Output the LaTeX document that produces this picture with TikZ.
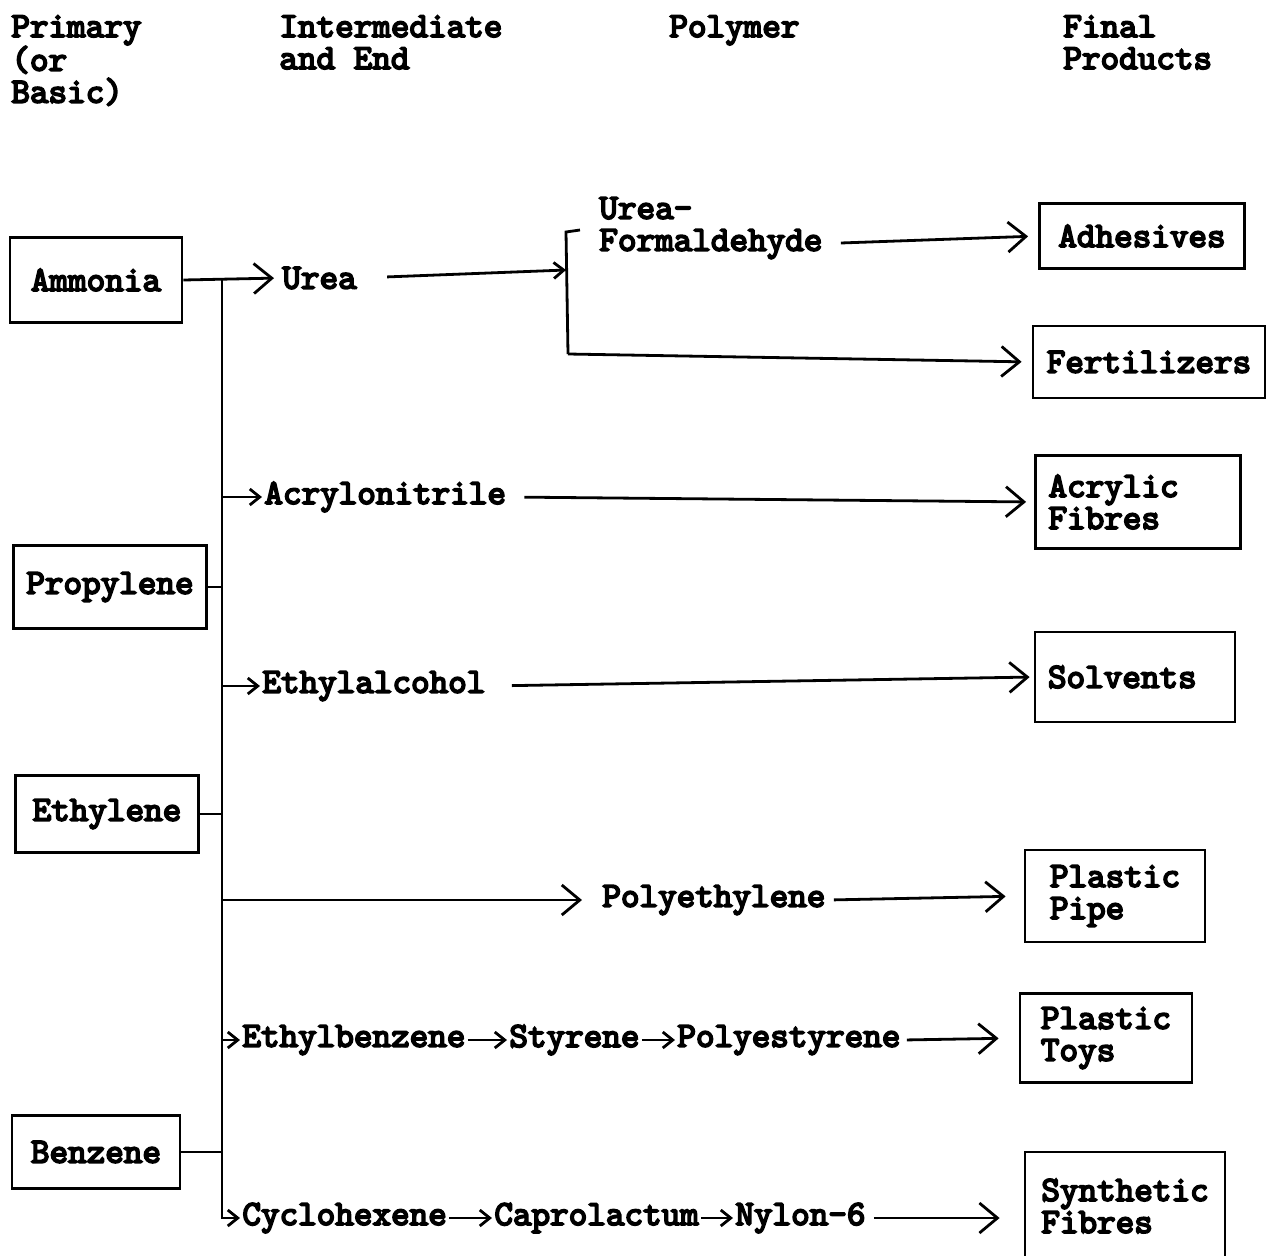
\documentclass[tikz,border=0pt]{standalone}
\usepackage{fontspec}
\newfontfamily\tw{lmmono10-regular}[Extension=.otf, FakeBold=5]
\usetikzlibrary{arrows.meta}
\begin{document}
\begin{tikzpicture}[x=1pt,y=-1pt,
  font=\tw\fontsize{35.4}{32}\selectfont,
  line width=2.8pt,
  lab/.style={inner sep=1pt, anchor=west, align=left},
  hdr/.style={inner sep=0pt, anchor=north west, align=left},
  box/.style={draw, inner sep=0pt, align=left},
  arr/.style={-{Straight Barb[length=18pt,width=30pt]}},
  sarr/.style={-{Straight Barb[length=10pt,width=16pt]}}]
\useasboundingbox (0,0) rectangle (1271,1255);

% headers
\node[hdr] (h1) at (10,14) {Primary\\(or\\Basic)};
\node[hdr] (h2) at (278,14) {Intermediate\\and End};
\node[hdr] (h3) at (668,14) {Polymer};
\node[hdr] (h4) at (1062,14) {Final\\Products};

% primary boxes
\node[box, minimum width=172pt, minimum height=85pt] (amm) at (96,280) {Ammonia};
\node[box, minimum width=193pt, minimum height=83pt] (prop) at (110,587) {Propylene};
\node[box, minimum width=183pt, minimum height=77pt] (ethy) at (107,814) {Ethylene};
\node[box, minimum width=168pt, minimum height=73pt] (benz) at (96,1152) {Benzene};

% final boxes
\node[box, minimum width=205pt, minimum height=65pt] (adh) at (1142,236) {Adhesives};
\node[box, minimum width=232pt, minimum height=72pt] (fert) at (1149,362) {Fertilizers};
\node[box, minimum height=93pt, inner xsep=13pt, text width=179pt] (acrf) at (1138,502) {Acrylic\\Fibres};
\node[box, minimum height=90pt, inner xsep=13pt, text width=174pt] (solv) at (1135,677) {Solvents};
\node[box, minimum width=180pt, minimum height=92pt] (pipe) at (1115,896) {Plastic\\Pipe};
\node[box, minimum width=172pt, minimum height=89pt] (toys) at (1106,1038) {Plastic\\Toys};
\node[box, minimum width=200pt, minimum height=108pt] (synf) at (1125,1206) {Synthetic\\Fibres};

% intermediate texts
\node[lab] (urea) at (280,278) {Urea};
\node[lab] (uf) at (597,228) {Urea-\\Formaldehyde};
\node[lab] (acry) at (262,497) {Acrylonitrile};
\node[lab] (ethal) at (260,686) {Ethylalcohol};
\node[lab] (pe) at (600,900) {Polyethylene};
\node[lab] (eb) at (240,1040) {Ethylbenzene};
\node[lab] (sty) at (507,1040) {Styrene};
\node[lab] (ps) at (675,1040) {Polyestyrene};
\node[lab] (ch) at (240,1218) {Cyclohexene};
\node[lab] (cap) at (492,1218) {Caprolactum};
\node[lab] (ny) at (733,1218) {Nylon-6};

% bus
\coordinate (bx) at (222,0);
\coordinate (brhook) at (580,230);
\coordinate (brtop) at (566,232);
\coordinate (brmid) at (566,270);
\coordinate (brbot) at (568,354);

\draw[arr, shorten >=6pt] (amm.east) -- (urea.west);
\draw[sarr] (amm.east -| bx) -- (ch.west -| bx) -- (ch.west);
\draw (prop.east) -- (prop.east -| bx);
\draw (ethy.east) -- (ethy.east -| bx);
\draw (benz.east) -- (benz.east -| bx);
\draw[sarr] (acry.west -| bx) -- (acry.west);
\draw[sarr] (ethal.west -| bx) -- (ethal.west);
\draw[arr, shorten >=18pt] (pe.west -| bx) -- (pe.west);
\draw[sarr] (eb.west -| bx) -- (eb.west);

% urea branch
\draw[sarr, shorten <=28pt] (urea.east) -- (brmid);
\draw (brhook) -- (brtop) -- (brbot);
\draw[arr, shorten >=10pt] (brbot) -- (fert.west);
\draw[arr, shorten >=10pt] ([xshift=16pt,yshift=-15pt]uf.east) -- (adh.west);

% long arrows
\draw[arr, shorten <=16pt, shorten >=8pt] (acry.east) -- (acrf.west);
\draw[arr, shorten <=24pt, shorten >=4pt] (ethal.east) -- (solv.west);
\draw[arr, shorten <=6pt, shorten >=18pt] (pe.east) -- (pipe.west);

% chains
\draw[sarr] (eb.east) -- (sty.west);
\draw[sarr] (sty.east) -- (ps.west);
\draw[arr, shorten <=4pt, shorten >=20pt] (ps.east) -- (toys.west);
\draw[sarr] (ch.east) -- (cap.west);
\draw[sarr] (cap.east) -- (ny.west);
\draw[arr, shorten <=6pt, shorten >=24pt] (ny.east) -- (synf.west |- ny.east);
\end{tikzpicture}
\end{document}
